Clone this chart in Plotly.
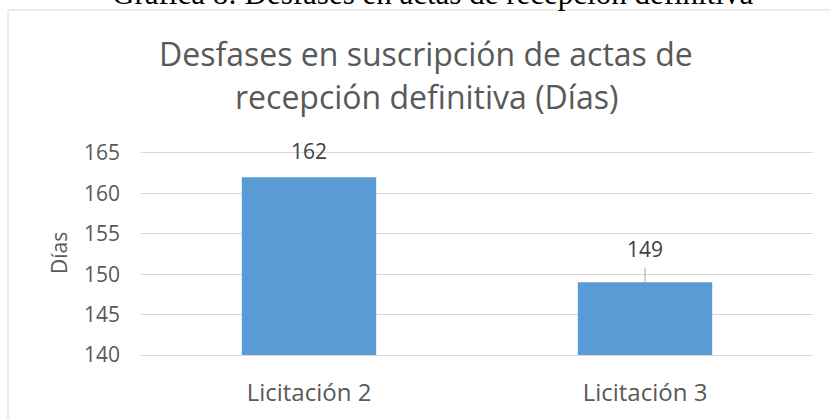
import plotly.graph_objects as go

# Data
categories = ["Licitación 2", "Licitación 3"]
dias = [162, 149]
y_ticks = [140, 145, 150, 155, 160, 165]

caption = "Gráfica 8: Desfases en actas de recepción definitiva"
title_lines = ["Desfases en suscripción de actas de", "recepción definitiva (Días)"]
y_title = "Días"

BAR_COLOR = "#5B9BD5"
GRID = "#D9D9D9"
TEXT = "#595959"
LABEL = "#404040"
FONT = "Open Sans"

W, H = 830, 419
M = dict(l=141, r=17, t=153, b=64)
plot_h = H - M["t"] - M["b"]
plot_w = W - M["l"] - M["r"]


def py(px):
    """pixel row -> paper y"""
    return (H - M["b"] - px) / plot_h


def px_x(px):
    """pixel column -> paper x"""
    return (px - M["l"]) / plot_w


fig = go.Figure()

fig.add_trace(go.Bar(
    x=categories,
    y=dias,
    width=0.4,
    marker=dict(color=BAR_COLOR, line=dict(width=0)),
    hoverinfo="x+y",
    showlegend=False,
))

# data labels (second one is pulled up with a leader line, as in the source)
fig.add_annotation(
    x=categories[0], y=dias[0], text=str(dias[0]),
    showarrow=False, yanchor="middle", yshift=26,
    font=dict(family=FONT, size=21, color=LABEL),
)
fig.add_annotation(
    x=categories[1], y=dias[1], text=str(dias[1]),
    showarrow=True, ax=0, ay=-33, arrowhead=0, arrowwidth=1,
    arrowcolor="#A6A6A6", standoff=0, startstandoff=3,
    font=dict(family=FONT, size=21, color=LABEL),
)

# chart title (two lines)
fig.add_annotation(
    xref="paper", yref="paper", x=px_x(426), y=py(53),
    text=title_lines[0], showarrow=False, xanchor="center", yanchor="middle",
    font=dict(family=FONT, size=32, color=TEXT),
)
fig.add_annotation(
    xref="paper", yref="paper", x=px_x(426), y=py(96),
    text=title_lines[1], showarrow=False, xanchor="center", yanchor="middle",
    font=dict(family=FONT, size=32, color=TEXT),
)

# y-axis title
fig.add_annotation(
    xref="paper", yref="paper", x=px_x(59), y=py(253),
    text=y_title, showarrow=False, textangle=-90,
    xanchor="center", yanchor="middle",
    font=dict(family=FONT, size=21, color=TEXT),
)

# document caption, clipped by the top of the image
fig.add_annotation(
    xref="paper", yref="paper", x=px_x(432), y=py(-7),
    text=caption, showarrow=False, xanchor="center", yanchor="middle",
    font=dict(family="Liberation Serif", size=31, color="#000000"),
)

# chart-area border
fig.add_shape(
    type="rect", xref="paper", yref="paper",
    x0=px_x(8), x1=px_x(W + 20), y0=py(H + 20), y1=py(10),
    line=dict(color=GRID, width=1), fillcolor="rgba(0,0,0,0)", layer="below",
)

fig.update_layout(
    width=W, height=H,
    margin=M,
    paper_bgcolor="white",
    plot_bgcolor="white",
    font=dict(family=FONT, color=TEXT),
    showlegend=False,
    bargap=0.6,
)

# x-axis line + its mirror give the 140 and 165 gridlines at the plot edges
fig.update_xaxes(
    showgrid=False, zeroline=False, automargin=False,
    showline=True, mirror=True, linecolor=GRID, linewidth=1,
    ticks="", ticklabelstandoff=16,
    tickfont=dict(family=FONT, size=24, color=TEXT),
)
fig.update_yaxes(
    range=[y_ticks[0], y_ticks[-1]],
    tickvals=y_ticks, automargin=False,
    showgrid=True, gridcolor=GRID, gridwidth=1,
    showline=False, zeroline=False,
    ticks="", ticklabelstandoff=20,
    tickfont=dict(family=FONT, size=21, color=TEXT),
)

# drop the browser's default body margin so the figure sits at the page corner
fig.write_html(
    "out.html",
    config={"displayModeBar": False},
    post_script="document.body.style.margin='0';document.body.style.overflow='hidden';",
)
